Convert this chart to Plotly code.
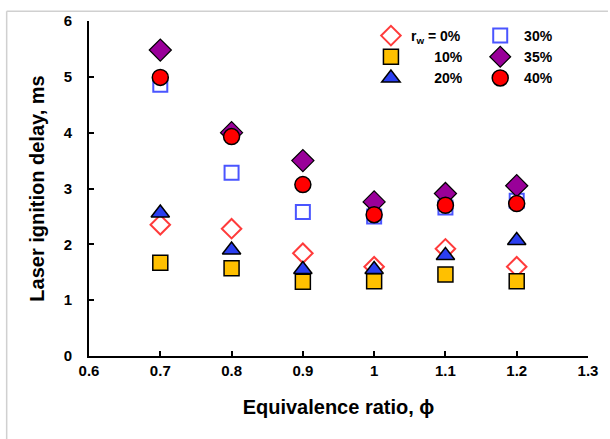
import plotly.graph_objects as go

phi = [0.7, 0.8, 0.9, 1.0, 1.1, 1.2]
delay_0 = [2.35, 2.28, 1.84, 1.6, 1.92, 1.6]
delay_10 = [1.67, 1.57, 1.33, 1.34, 1.46, 1.34]
delay_20 = [2.56, 1.9, 1.55, 1.55, 1.8, 2.07]
delay_30 = [4.86, 3.28, 2.58, 2.5, 2.66, 2.78]
delay_35 = [5.48, 4.0, 3.5, 2.76, 2.91, 3.05]
delay_40 = [4.99, 3.93, 3.07, 2.53, 2.7, 2.73]

x_ticks = [0.6, 0.7, 0.8, 0.9, 1.0, 1.1, 1.2, 1.3]
x_ticktext = ["0.6", "0.7", "0.8", "0.9", "1", "1.1", "1.2", "1.3"]
y_ticks = [0, 1, 2, 3, 4, 5, 6]

NB = "\u00a0"
series = [
    # name, values, symbol, size, fill, line color, line width, legend
    ("r<sub>w</sub> = 0%", delay_0, "diamond-open", 15, "#FF3B3B", "#FF3B3B", 2, "legend"),
    (NB * 6 + "10%", delay_10, "square", 15, "#FFC000", "#000000", 1.5, "legend"),
    (NB * 6 + "20%", delay_20, "triangle-up", 16, "#2B3FF0", "#000000", 1.5, "legend"),
    (NB + "30%", delay_30, "square-open", 14, "#4A55FF", "#4A55FF", 2, "legend2"),
    (NB + "35%", delay_35, "diamond", 17, "#990099", "#000000", 1.2, "legend2"),
    (NB + "40%", delay_40, "circle", 16, "#FF0000", "#000000", 1.5, "legend2"),
]

fig = go.Figure()
for i in range(len(series)):
    name, vals, sym, size, fill, lc, lw, lg = series[i]
    fig.add_trace(go.Scatter(
        x=phi, y=vals, mode="markers", name=name,
        marker=dict(symbol=sym, size=size, color=fill,
                    line=dict(color=lc, width=lw)),
        legend=lg,
    ))

tick_family = "Liberation Sans Narrow, Arial Narrow, Liberation Sans, Arial"
legend_font = dict(family="Liberation Sans, Arial", size=14, color="black", weight="bold")
common_legend = dict(
    orientation="v", xanchor="left", yanchor="top",
    font=legend_font, bgcolor="rgba(0,0,0,0)",
    itemsizing="trace", tracegroupgap=0, traceorder="normal",
)
fig.update_layout(
    width=610, height=439,
    margin=dict(l=89, r=17, t=16, b=83),
    paper_bgcolor="white", plot_bgcolor="white",
    font=dict(family="Liberation Sans, Arial", color="black"),
    showlegend=True,
    legend=dict(x=0.565, y=1.003, **common_legend),
    legend2=dict(x=0.784, y=1.003, **common_legend),
    xaxis=dict(
        range=[0.6, 1.3], tickvals=x_ticks, ticktext=x_ticktext,
        showgrid=False, zeroline=False,
        showline=True, linecolor="black", linewidth=2,
        ticks="inside", ticklen=5, tickwidth=2, tickcolor="black",
        tickfont=dict(family=tick_family, size=15, weight="bold"),
        title=dict(text="Equivalence ratio, ϕ", standoff=22,
                   font=dict(family="Liberation Sans, Arial", size=20, weight="bold")),
    ),
    yaxis=dict(
        range=[0, 6], tickvals=y_ticks,
        showgrid=False, zeroline=False,
        showline=True, linecolor="black", linewidth=2,
        ticks="inside", ticklen=5, tickwidth=2, tickcolor="black",
        tickfont=dict(family=tick_family, size=15, weight="bold"),
        ticklabelstandoff=12,
        title=dict(text="Laser ignition delay, ms", standoff=14,
                   font=dict(family="Liberation Sans, Arial", size=20, weight="bold")),
    ),
    shapes=[
        dict(type="line", xref="paper", yref="paper", x0=-0.165, x1=-0.165,
             y0=-0.25, y1=1.029, line=dict(color="#d0d0d0", width=1.5)),
        dict(type="line", xref="paper", yref="paper", x0=-0.165, x1=1.04,
             y0=1.029, y1=1.029, line=dict(color="#d0d0d0", width=1.5)),
    ],
)

fig.write_html(
    "out.html",
    config={"displayModeBar": False},
    post_script="document.body.style.margin='0';document.body.style.padding='0';",
)
